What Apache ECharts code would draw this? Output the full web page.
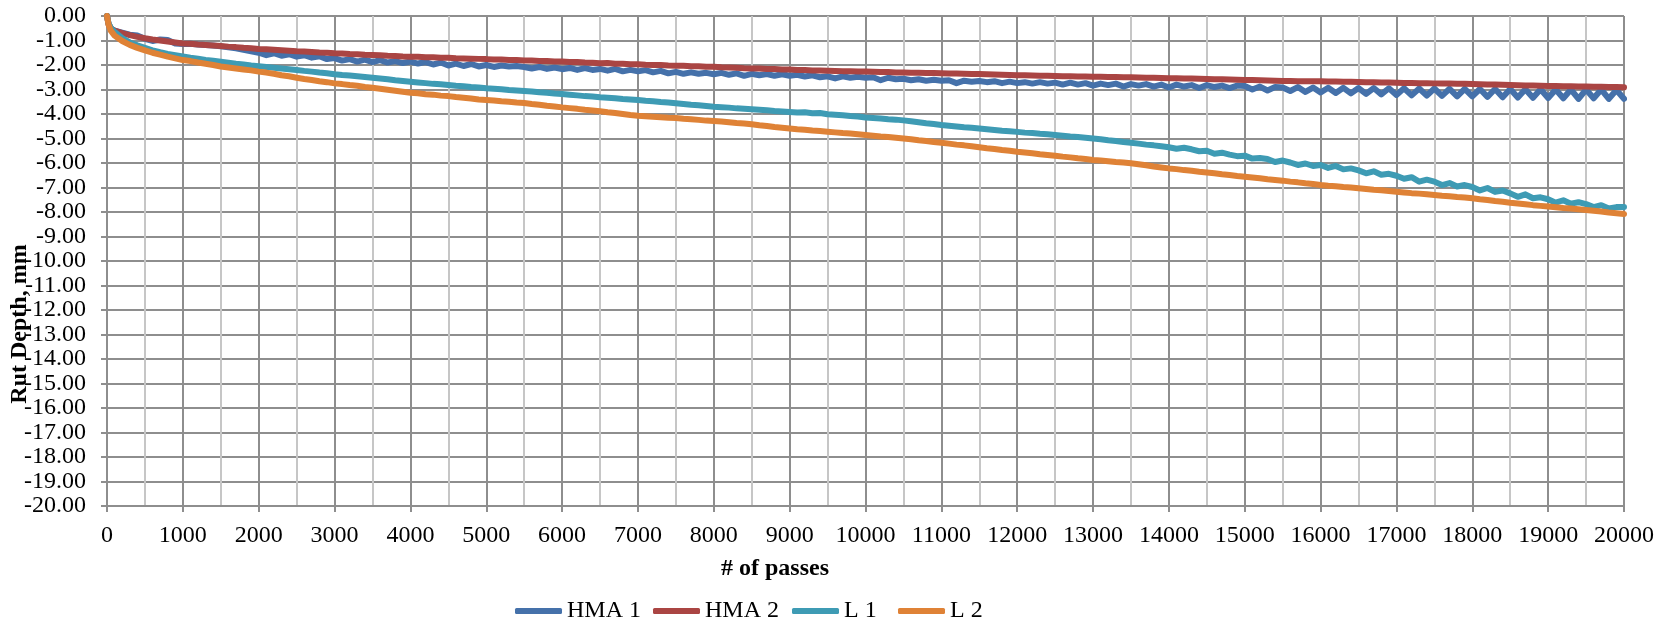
<!DOCTYPE html>
<html>
<head>
<meta charset="utf-8">
<script src="https://cdn.jsdelivr.net/npm/echarts@6/dist/echarts.min.js"></script>
<style>
html,body{margin:0;padding:0;background:#fff;}
#chart{width:1667px;height:623px;}
</style>
</head>
<body>
<div id="chart"></div>
<script>
// ---- data ----
const seriesNames = ['HMA 1', 'HMA 2', 'L 1', 'L 2'];
const xTicks = [0,1000,2000,3000,4000,5000,6000,7000,8000,9000,10000,11000,12000,13000,14000,15000,16000,17000,18000,19000,20000];
const yTicks = [0,-1,-2,-3,-4,-5,-6,-7,-8,-9,-10,-11,-12,-13,-14,-15,-16,-17,-18,-19,-20];

const passes = [
0,20,50,
100,200,300,400,500,600,700,800,900,1000,
1100,1200,1300,1400,1500,1600,1700,1800,1900,2000,
2100,2200,2300,2400,2500,2600,2700,2800,2900,3000,
3100,3200,3300,3400,3500,3600,3700,3800,3900,4000,
4100,4200,4300,4400,4500,4600,4700,4800,4900,5000,
5100,5200,5300,5400,5500,5600,5700,5800,5900,6000,
6100,6200,6300,6400,6500,6600,6700,6800,6900,7000,
7100,7200,7300,7400,7500,7600,7700,7800,7900,8000,
8100,8200,8300,8400,8500,8600,8700,8800,8900,9000,
9100,9200,9300,9400,9500,9600,9700,9800,9900,10000,
10100,10200,10300,10400,10500,10600,10700,10800,10900,11000,
11100,11200,11300,11400,11500,11600,11700,11800,11900,12000,
12100,12200,12300,12400,12500,12600,12700,12800,12900,13000,
13100,13200,13300,13400,13500,13600,13700,13800,13900,14000,
14100,14200,14300,14400,14500,14600,14700,14800,14900,15000,
15100,15200,15300,15400,15500,15600,15700,15800,15900,16000,
16100,16200,16300,16400,16500,16600,16700,16800,16900,17000,
17100,17200,17300,17400,17500,17600,17700,17800,17900,18000,
18100,18200,18300,18400,18500,18600,18700,18800,18900,19000,
19100,19200,19300,19400,19500,19600,19700,19800,19900,20000
];

const hma1 = [
0,-0.30,-0.50,
-0.60,-0.68,-0.76,-0.80,-0.93,-1.02,-0.96,-0.98,-1.12,-1.14,
-1.13,-1.16,-1.18,-1.20,-1.24,-1.28,-1.32,-1.38,-1.44,-1.50,
-1.60,-1.52,-1.62,-1.56,-1.66,-1.60,-1.70,-1.64,-1.76,-1.72,
-1.82,-1.76,-1.86,-1.78,-1.88,-1.80,-1.90,-1.84,-1.92,-1.86,
-1.94,-1.88,-1.98,-1.90,-2.02,-1.94,-2.04,-1.96,-2.06,-2.00,
-2.08,-2.02,-2.06,-2.04,-2.08,-2.14,-2.08,-2.16,-2.10,-2.17,
-2.12,-2.20,-2.13,-2.20,-2.16,-2.23,-2.16,-2.26,-2.20,-2.26,
-2.21,-2.30,-2.24,-2.34,-2.28,-2.36,-2.30,-2.36,-2.32,-2.38,
-2.32,-2.40,-2.34,-2.44,-2.36,-2.42,-2.37,-2.44,-2.38,-2.44,
-2.40,-2.47,-2.42,-2.50,-2.46,-2.55,-2.46,-2.52,-2.48,-2.52,
-2.50,-2.62,-2.52,-2.58,-2.56,-2.62,-2.58,-2.64,-2.60,-2.64,
-2.62,-2.74,-2.64,-2.68,-2.65,-2.70,-2.66,-2.74,-2.68,-2.74,
-2.70,-2.76,-2.70,-2.76,-2.72,-2.80,-2.72,-2.80,-2.74,-2.84,
-2.76,-2.82,-2.76,-2.88,-2.78,-2.84,-2.78,-2.88,-2.80,-2.92,
-2.80,-2.88,-2.82,-2.94,-2.82,-2.90,-2.84,-2.94,-2.84,-2.86,
-3.00,-2.88,-3.04,-2.90,-2.92,-3.06,-2.90,-3.10,-2.92,-3.12,
-2.93,-3.14,-2.93,-3.16,-2.94,-3.18,-2.94,-3.20,-2.95,-3.22,
-2.95,-3.24,-2.96,-3.25,-2.96,-3.26,-2.97,-3.28,-2.97,-3.28,
-2.98,-3.30,-2.98,-3.32,-2.98,-3.33,-2.99,-3.34,-2.99,-3.35,
-3.00,-3.36,-3.00,-3.38,-3.00,-3.36,-3.00,-3.38,-3.02,-3.38
];

const hma2 = [
0,-0.35,-0.50,
-0.60,-0.70,-0.78,-0.85,-0.91,-0.96,-1.00,-1.04,-1.08,-1.12,
-1.13,-1.16,-1.18,-1.20,-1.22,-1.25,-1.27,-1.30,-1.32,-1.35,
-1.36,-1.38,-1.40,-1.42,-1.44,-1.45,-1.47,-1.49,-1.50,-1.52,
-1.53,-1.55,-1.56,-1.58,-1.59,-1.60,-1.62,-1.63,-1.65,-1.66,
-1.66,-1.68,-1.68,-1.70,-1.70,-1.72,-1.73,-1.74,-1.75,-1.76,
-1.78,-1.78,-1.80,-1.80,-1.82,-1.82,-1.84,-1.84,-1.86,-1.86,
-1.88,-1.88,-1.90,-1.91,-1.93,-1.92,-1.95,-1.95,-1.97,-1.97,
-1.99,-2.00,-2.00,-2.02,-2.03,-2.03,-2.05,-2.05,-2.07,-2.07,
-2.09,-2.10,-2.11,-2.13,-2.14,-2.14,-2.16,-2.16,-2.18,-2.18,
-2.20,-2.20,-2.22,-2.22,-2.23,-2.24,-2.25,-2.25,-2.27,-2.27,
-2.28,-2.29,-2.29,-2.31,-2.31,-2.32,-2.32,-2.33,-2.33,-2.34,
-2.35,-2.35,-2.36,-2.37,-2.37,-2.38,-2.39,-2.40,-2.41,-2.42,
-2.42,-2.43,-2.44,-2.44,-2.45,-2.46,-2.46,-2.47,-2.47,-2.48,
-2.48,-2.49,-2.49,-2.50,-2.50,-2.51,-2.52,-2.52,-2.53,-2.54,
-2.54,-2.55,-2.55,-2.56,-2.57,-2.58,-2.58,-2.59,-2.60,-2.61,
-2.61,-2.62,-2.63,-2.64,-2.65,-2.65,-2.66,-2.66,-2.66,-2.66,
-2.67,-2.67,-2.68,-2.68,-2.69,-2.70,-2.70,-2.71,-2.71,-2.72,
-2.73,-2.73,-2.74,-2.74,-2.75,-2.76,-2.76,-2.77,-2.77,-2.78,
-2.79,-2.80,-2.80,-2.81,-2.82,-2.83,-2.84,-2.84,-2.85,-2.86,
-2.86,-2.87,-2.87,-2.88,-2.88,-2.89,-2.89,-2.90,-2.90,-2.91
];

const l1 = [
0,-0.30,-0.48,
-0.65,-0.90,-1.08,-1.20,-1.30,-1.40,-1.48,-1.55,-1.60,-1.65,
-1.70,-1.74,-1.79,-1.83,-1.87,-1.91,-1.95,-1.98,-2.02,-2.05,
-2.08,-2.11,-2.14,-2.17,-2.20,-2.24,-2.27,-2.31,-2.34,-2.38,
-2.41,-2.43,-2.46,-2.49,-2.52,-2.55,-2.58,-2.62,-2.65,-2.68,
-2.71,-2.74,-2.77,-2.79,-2.82,-2.85,-2.87,-2.90,-2.92,-2.95,
-2.97,-2.99,-3.02,-3.04,-3.06,-3.08,-3.11,-3.13,-3.16,-3.18,
-3.21,-3.24,-3.27,-3.29,-3.32,-3.34,-3.36,-3.39,-3.41,-3.43,
-3.46,-3.48,-3.51,-3.53,-3.56,-3.59,-3.62,-3.64,-3.67,-3.70,
-3.72,-3.74,-3.77,-3.79,-3.81,-3.83,-3.85,-3.88,-3.90,-3.92,
-3.94,-3.93,-3.97,-3.96,-4.01,-4.03,-4.05,-4.08,-4.10,-4.14,
-4.16,-4.18,-4.21,-4.23,-4.26,-4.30,-4.34,-4.38,-4.41,-4.45,
-4.48,-4.51,-4.54,-4.56,-4.59,-4.62,-4.65,-4.68,-4.70,-4.73,
-4.76,-4.78,-4.81,-4.83,-4.86,-4.89,-4.92,-4.94,-4.97,-5.00,
-5.03,-5.07,-5.10,-5.14,-5.17,-5.21,-5.25,-5.28,-5.32,-5.36,
-5.42,-5.38,-5.44,-5.52,-5.50,-5.62,-5.58,-5.66,-5.72,-5.70,
-5.82,-5.80,-5.84,-5.96,-5.90,-5.98,-6.08,-6.02,-6.12,-6.08,
-6.20,-6.12,-6.26,-6.22,-6.30,-6.42,-6.34,-6.48,-6.44,-6.52,
-6.64,-6.58,-6.76,-6.68,-6.76,-6.90,-6.82,-6.96,-6.90,-6.98,
-7.12,-7.02,-7.18,-7.12,-7.24,-7.38,-7.28,-7.44,-7.40,-7.48,
-7.62,-7.52,-7.66,-7.60,-7.68,-7.80,-7.72,-7.86,-7.80,-7.80
];

const l2 = [
0,-0.35,-0.60,
-0.80,-1.02,-1.18,-1.30,-1.40,-1.50,-1.58,-1.66,-1.73,-1.80,
-1.84,-1.90,-1.95,-2.00,-2.06,-2.10,-2.14,-2.18,-2.22,-2.27,
-2.31,-2.36,-2.42,-2.46,-2.52,-2.57,-2.61,-2.66,-2.70,-2.75,
-2.78,-2.82,-2.85,-2.90,-2.93,-2.97,-3.01,-3.05,-3.09,-3.13,
-3.15,-3.19,-3.21,-3.25,-3.27,-3.31,-3.34,-3.37,-3.41,-3.43,
-3.45,-3.48,-3.50,-3.53,-3.55,-3.59,-3.62,-3.66,-3.69,-3.73,
-3.76,-3.79,-3.83,-3.86,-3.89,-3.93,-3.96,-4.00,-4.04,-4.07,
-4.09,-4.11,-4.13,-4.15,-4.16,-4.19,-4.21,-4.24,-4.27,-4.29,
-4.31,-4.34,-4.37,-4.39,-4.42,-4.46,-4.49,-4.53,-4.56,-4.59,
-4.62,-4.64,-4.67,-4.69,-4.72,-4.75,-4.78,-4.80,-4.83,-4.86,
-4.89,-4.92,-4.94,-4.97,-5.00,-5.03,-5.07,-5.10,-5.14,-5.17,
-5.21,-5.25,-5.28,-5.32,-5.36,-5.40,-5.43,-5.47,-5.50,-5.54,
-5.57,-5.60,-5.64,-5.67,-5.70,-5.74,-5.77,-5.81,-5.84,-5.88,
-5.90,-5.93,-5.96,-5.98,-6.01,-6.05,-6.09,-6.14,-6.18,-6.22,
-6.25,-6.29,-6.32,-6.36,-6.39,-6.42,-6.46,-6.49,-6.53,-6.56,
-6.59,-6.62,-6.66,-6.69,-6.72,-6.76,-6.79,-6.83,-6.86,-6.90,
-6.93,-6.95,-6.98,-7.00,-7.03,-7.06,-7.09,-7.11,-7.14,-7.17,
-7.20,-7.23,-7.25,-7.28,-7.31,-7.34,-7.36,-7.39,-7.41,-7.44,
-7.48,-7.51,-7.55,-7.58,-7.62,-7.65,-7.68,-7.72,-7.75,-7.78,
-7.81,-7.84,-7.86,-7.89,-7.92,-7.95,-7.98,-8.02,-8.05,-8.08
];

const colors = ['#4571AA', '#AA4543', '#3E9BB4', '#DF8236'];
// ---- chart ----
const FONT = 'Liberation Serif';
const FS = 24;
const values = [hma1, hma2, l1, l2];
const legendLeft = [510, 648, 787, 893];
const chart = echarts.init(document.getElementById('chart'), null, {renderer: 'canvas'});
const gridColor = '#8e8e8e';
chart.setOption({
  animation: false,
  backgroundColor: '#ffffff',
  color: colors,
  grid: {left: 107, right: 43, top: 16, bottom: 117, containLabel: false},
  xAxis: {
    type: 'value', min: xTicks[0], max: xTicks[xTicks.length - 1], interval: 1000,
    axisLine: {show: true, onZero: false, lineStyle: {color: gridColor, width: 2}},
    axisTick: {show: true, length: 6, lineStyle: {color: gridColor, width: 2}},
    axisLabel: {color: '#000', fontFamily: FONT, fontSize: FS, margin: 18,
      formatter: v => String(v)},
    splitLine: {show: true, lineStyle: {color: gridColor, width: 2}},
    minorTick: {show: false, splitNumber: 2},
    minorSplitLine: {show: true, lineStyle: {color: '#c6c6c6', width: 2}}
  },
  yAxis: {
    type: 'value', min: yTicks[yTicks.length - 1], max: yTicks[0], interval: 1,
    axisLine: {show: true, onZero: false, lineStyle: {color: gridColor, width: 2}},
    axisTick: {show: true, length: 6, lineStyle: {color: gridColor, width: 2}},
    axisLabel: {color: '#000', fontFamily: FONT, fontSize: FS, margin: 21,
      formatter: v => v.toFixed(2)},
    splitLine: {show: true, lineStyle: {color: gridColor, width: 2}}
  },
  legend: seriesNames.map((n, i) => ({
    data: [n], left: legendLeft[i], top: 594, itemWidth: 47, itemHeight: 6,
    icon: 'roundRect', itemGap: 0,
    textStyle: {color: '#000', fontFamily: FONT, fontSize: FS}
  })),
  graphic: [
    {type: 'text', x: 20, y: 324, rotation: Math.PI / 2,
      style: {text: 'Rut Depth, mm', font: 'bold 24px "Liberation Serif"', fill: '#000', align: 'center', verticalAlign: 'middle'}},
    {type: 'text', x: 775, y: 569,
      style: {text: '# of passes', font: 'bold 24px "Liberation Serif"', fill: '#000', align: 'center', verticalAlign: 'middle'}}
  ],
  series: seriesNames.map((name, i) => ({
    name: name, type: 'line', showSymbol: false, symbol: 'none', smooth: false,
    lineStyle: {width: 6, cap: 'round', join: 'round'},
    data: passes.map((p, k) => [p, values[i][k]])
  }))
});
</script>
</body>
</html>
